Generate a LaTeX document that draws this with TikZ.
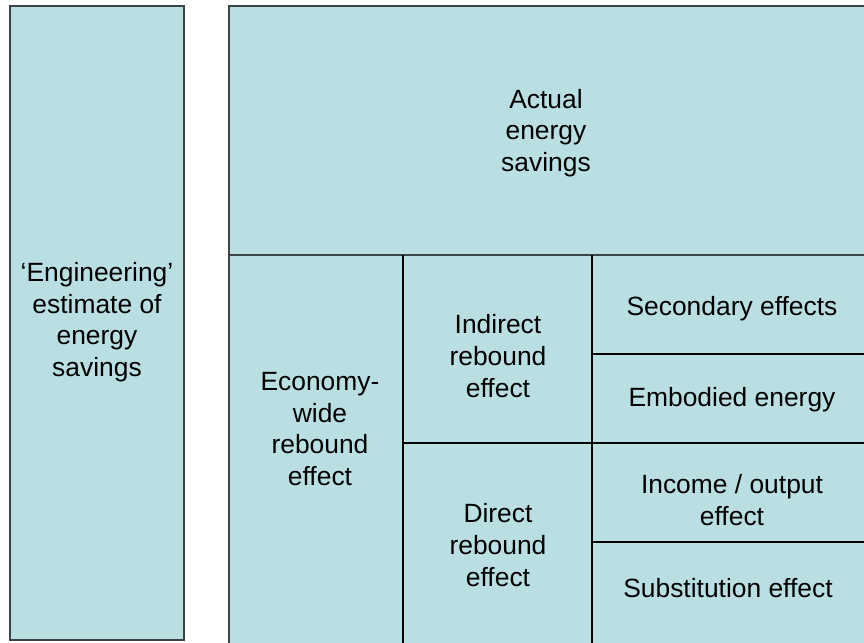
\documentclass[tikz,border=0pt]{standalone}
\usepackage{fontspec}
\setmainfont{Liberation Sans}
\definecolor{cellfill}{HTML}{B9DFE2}
\definecolor{edgegray}{HTML}{3A4446}
\tikzset{
  label/.style={align=center, font=\fontsize{13.2pt}{15.8pt}\selectfont, inner sep=0pt},
  panel/.style={fill=cellfill, draw=edgegray, line width=0.7pt},
  divider/.style={draw=black, line width=0.6pt}
}

\begin{document}
\begin{tikzpicture}[x=0.5pt, y=-0.5pt]
        \useasboundingbox (0,0) rectangle (864,643);
        \fill[white] (0,0) rectangle (864,643);
        \begin{scope}
        \clip (0,0) rectangle (864,643);
        \draw[panel] (10,6) rectangle (184,640);
        \draw[panel] (229,6) rectangle (880,660);
        \draw[edgegray, line width=0.7pt] (229,255) -- (880,255);
        \draw[divider] (403,255) -- (403,660);
        \draw[divider] (592,255) -- (592,660);
        \draw[divider] (403,443) -- (592,443);
        \draw[divider] (592,354) -- (880,354);
        \draw[divider] (592,443) -- (880,443);
        \draw[divider] (592,542) -- (880,542);
        \end{scope}

        \node[label] (eng) at (97,322) {`Engineering'\\estimate of\\energy\\savings};
        \node[label] (actual) at (546,133) {Actual\\energy\\savings};
        \node[label] (economy) at (320,429) {Economy-\\wide\\rebound\\effect};
        \node[label] (indirect) at (498,356) {Indirect\\rebound\\effect};
        \node[label] (direct) at (498,545) {Direct\\rebound\\effect};
        \node[label] (secondary) at (732,309) {Secondary effects};
        \node[label] (embodied) at (732,400) {Embodied energy};
        \node[label] (income) at (732,500) {Income / output\\effect};
        \node[label] (subst) at (728,588) {Substitution effect};
\end{tikzpicture}
\end{document}
